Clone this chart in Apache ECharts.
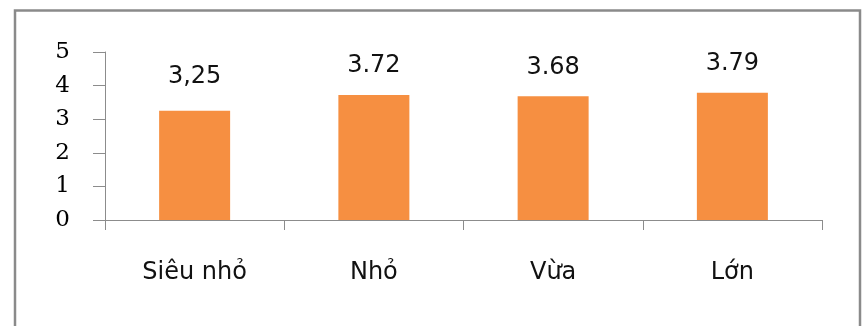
<!DOCTYPE html>
<html>
<head>
<meta charset="utf-8">
<script src="https://cdn.jsdelivr.net/npm/echarts@6/dist/echarts.min.js"></script>
<style>
  html, body { margin: 0; padding: 0; background: #ffffff; }
  #chart { width: 864px; height: 326px; }
</style>
</head>
<body>
<div id="chart"></div>
<script>
// Company size groups and their average scores
const categories = ['Siêu nhỏ', 'Nhỏ', 'Vừa', 'Lớn'];
const scores = [3.25, 3.72, 3.68, 3.79];
const scoreLabels = ['3,25', '3.72', '3.68', '3.79'];
const yTicks = [0, 1, 2, 3, 4, 5];

const axisGray = '#8c8c8c';
const barColor = '#F68F41';

const chart = echarts.init(document.getElementById('chart'), null, { renderer: 'canvas' });

chart.setOption({
  backgroundColor: '#ffffff',
  animation: false,
  graphic: [{
    type: 'rect',
    shape: { x: 15, y: 10.5, width: 845, height: 340 },
    style: { fill: 'none', stroke: '#8a8a8a', lineWidth: 2.5 },
    silent: true
  }],
  grid: { left: 105, right: 42, top: 52, bottom: 106 },
  xAxis: {
    type: 'category',
    data: categories,
    axisLine: { lineStyle: { color: axisGray, width: 1 } },
    axisTick: { show: true, length: 10, lineStyle: { color: axisGray } },
    axisLabel: {
      margin: 41,
      color: '#111111',
      fontFamily: 'DejaVu Sans',
      fontSize: 24
    }
  },
  yAxis: {
    type: 'value',
    min: yTicks[0],
    max: yTicks[yTicks.length - 1],
    interval: 1,
    splitLine: { show: false },
    axisLine: { show: true, lineStyle: { color: axisGray, width: 1 } },
    axisTick: { show: true, length: 12, lineStyle: { color: axisGray } },
    axisLabel: {
      margin: 35,
      color: '#000000',
      fontFamily: 'DejaVu Serif',
      fontSize: 23
    }
  },
  series: [{
    type: 'bar',
    barWidth: 71,
    itemStyle: { color: barColor },
    data: scores.map((v, i) => ({
      value: v,
      label: i === 0 ? { distance: 22 } : undefined
    })),
    label: {
      show: true,
      position: 'top',
      distance: 17,
      color: '#111111',
      fontFamily: 'DejaVu Sans',
      fontSize: 24,
      formatter: p => scoreLabels[p.dataIndex]
    }
  }]
});
</script>
</body>
</html>
